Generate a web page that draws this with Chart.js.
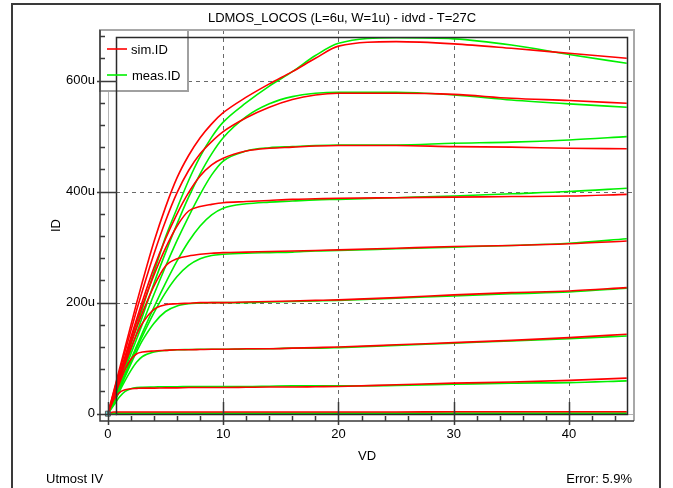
<!DOCTYPE html>
<html><head><meta charset="utf-8">
<script src="https://cdn.jsdelivr.net/npm/chart.js@4/dist/chart.umd.min.js"></script>
<style>
html,body{margin:0;padding:0;background:#fff;width:673px;height:488px;overflow:hidden;font-family:"Liberation Sans",Arial,sans-serif;}
#frame{position:absolute;left:11px;top:3px;width:646px;height:600px;border:2px solid #3a3a3a;}
#wrap{position:absolute;left:0;top:0;width:673px;height:488px;}
.txt{position:absolute;font-size:13px;color:#000;white-space:nowrap;line-height:1;}
#title{left:342px;top:11px;transform:translateX(-50%);}
#foot1{left:46px;top:472px;}
#foot2{right:41px;top:472px;}
</style></head><body>
<div id="frame"></div>
<div id="wrap"><canvas id="c" width="673" height="488"></canvas></div>
<div class="txt" id="title">LDMOS_LOCOS (L=6u, W=1u) - idvd - T=27C</div>
<div class="txt" id="foot1">Utmost IV</div>
<div class="txt" id="foot2">Error: 5.9%</div>
<script>
// Drain voltage (V)
const VD = [0,0.5,1,1.5,2,2.5,3,4,5,6,7,8,9,10,12,14,16,18,20,25,30,35,40,45];
// Drain current (uA), simulated and measured, one array per gate bias
const sim_0  = [0,3,3,3,3,3,3,3,3,3,3,3,3,3,3,3,3,3,3,3,3.5,3.5,3.5,3.5];
const meas_0 = [0,1,1,1,1,1,1,1,1,1,1,1,1,1,1,1,1,1,1,1,1,1,1,1];
const sim_1  = [0,25,38,43,45,45.5,46,46,46.5,46.5,47,47,47,47,47.5,48,48,48.5,49,52,55,57,60,64];
const meas_1 = [0,15,30,40,45,47,47.5,48,48.5,48.5,49,49,49,49,49,49.5,50,50,50,51,53,55,56,59];
const sim_2  = [0,28,55,80,98,108,111,113,114,115,115,115.5,116,116,117,117,118,119,120,124,128,132,137,143];
const meas_2 = [0,18,40,60,78,93,103,111,114,115,115.5,116,116,116,116.5,117,118,118,119,123,127,131,135,140];
const sim_3  = [0,30,60,90,118,143,163,188,196,198,199,200,200,200,201,202,203,204,205,209,214,218,221,227];
const meas_3 = [0,20,43,67,90,112,132,163,184,194,198,199,200,200,200,201,202,203,204,208,212,216,219,226];
const sim_4  = [0,32,64,96,127,155,182,230,266,279,284,287,289,290,291,292,293,294,295,298,301,303,306,311];
const meas_4 = [0,22,46,70,95,118,140,182,218,247,267,279,285,287,289,290,291,293,294,297,300,303,307,315];
const sim_5  = [0,33,67,100,133,165,195,250,298,338,365,373,377,380,382,384,386,387,388,389,390,391,392,395];
const meas_5 = [0,23,48,73,98,122,146,192,235,275,310,338,358,370,378,381,383,385,386,389,392,396,400,406];
const sim_6  = [0,35,70,104,138,171,203,263,315,360,398,428,448,460,473,478,480,482,483,483,481,480,478,477];
const meas_6 = [0,25,52,80,108,135,162,215,265,312,355,395,430,455,473,479,481,483,484,484,487,489,493,499];
const sim_7  = [0,38,76,113,150,187,222,288,347,398,438,468,490,508,533,552,566,574,577,577,575,568,564,559];
const meas_7 = [0,26,55,85,115,145,175,235,290,342,390,432,468,497,535,558,571,577,579,579,574,565,558,552];
const sim_8  = [0,40,80,120,160,200,238,310,372,425,465,497,522,542,570,594,616,640,662,670,666,658,649,640];
const meas_8 = [0,28,60,92,125,158,190,255,318,370,420,463,498,525,560,590,616,645,667,677,675,664,647,631];

const simSeries  = [sim_0,sim_1,sim_2,sim_3,sim_4,sim_5,sim_6,sim_7,sim_8];
const measSeries = [meas_0,meas_1,meas_2,meas_3,meas_4,meas_5,meas_6,meas_7,meas_8];

// axis ticks
const xMajorTicks = [0,10,20,30,40];
const xMinorTicks = [2,4,6,8,12,14,16,18,22,24,26,28,32,34,36,38,42,44];
const yMajorTicks = [0,200,400,600];
const yMinorTicks = [40,80,120,160,240,280,320,360,440,480,520,560,640,680];
const xGridLines = [10,20,30,40];
const yGridLines = [200,400,600];
const legendLabels = ['sim.ID','meas.ID'];
const originMarker = [{x:0,y:0}];

const SIM_COLOR = '#ff0000', MEAS_COLOR = '#00f000';

function toPts(vals){ return VD.map((v,i)=>({x:v,y:vals[i]})); }

const datasets = [];
datasets.push({label:'origin', data:originMarker, showLine:false, pointStyle:'rect', pointRadius:3.5,
  pointBorderColor:'#555', pointBackgroundColor:'rgba(0,190,190,0.6)', pointBorderWidth:1});
simSeries.forEach(s=>datasets.push({label:legendLabels[0], data:toPts(s), borderColor:SIM_COLOR,
  borderWidth:1.6, pointRadius:0, fill:false, cubicInterpolationMode:'monotone'}));
measSeries.forEach(s=>datasets.push({label:legendLabels[1], data:toPts(s), borderColor:MEAS_COLOR,
  borderWidth:1.6, pointRadius:0, fill:false, cubicInterpolationMode:'monotone'}));

const decor = {
  id:'decor',
  beforeDatasetsDraw(chart){
    const {ctx, chartArea:a, scales:{x,y}} = chart;
    ctx.save();
    ctx.lineWidth = 1;
    ctx.strokeStyle = '#b4b4b4';
    ctx.beginPath();
    const x0 = Math.round(x.getPixelForValue(0))+0.5, y0 = Math.round(y.getPixelForValue(0))+0.5;
    ctx.moveTo(x0,a.top); ctx.lineTo(x0,a.bottom);
    ctx.moveTo(a.left,y0); ctx.lineTo(a.right,y0);
    ctx.stroke();
    ctx.strokeStyle = '#6a6a6a'; ctx.setLineDash([4,4]);
    ctx.beginPath();
    xGridLines.forEach(v=>{const p=Math.round(x.getPixelForValue(v))+0.5; ctx.moveTo(p,a.top); ctx.lineTo(p,a.bottom);});
    yGridLines.forEach(v=>{const p=Math.round(y.getPixelForValue(v))+0.5; ctx.moveTo(a.left,p); ctx.lineTo(a.right,p);});
    ctx.stroke();
    ctx.restore();
  },
  afterDatasetsDraw(chart){
    const {ctx, chartArea:a, scales:{x,y}} = chart;
    ctx.save();
    // legend box
    const lw = 88, lh = 61;
    ctx.fillStyle = '#fff';
    ctx.fillRect(a.left, a.top, lw, lh);
    ctx.strokeStyle = '#a0a0a0'; ctx.lineWidth = 2;
    ctx.strokeRect(a.left, a.top, lw, lh);
    // inner data frame (data extents)
    const fx0 = x.getPixelForValue(0.7), fx1 = x.getPixelForValue(VD[VD.length-1]);
    const fy0 = y.getPixelForValue(0), fy1 = y.getPixelForValue(679);
    ctx.strokeStyle = '#2a2a2a'; ctx.lineWidth = 1.5;
    ctx.strokeRect(Math.round(fx0)+0.5, Math.round(fy1)+0.5, Math.round(fx1-fx0), Math.round(fy0-fy1));
    // outer plot border: top/right grey, left/bottom dark
    ctx.strokeStyle = '#a8a8a8'; ctx.lineWidth = 2;
    ctx.beginPath();
    ctx.moveTo(a.left, a.top); ctx.lineTo(a.right, a.top); ctx.lineTo(a.right, a.bottom);
    ctx.stroke();
    ctx.strokeStyle = '#3a3a3a'; ctx.lineWidth = 1.5;
    ctx.beginPath();
    ctx.moveTo(a.left, a.top); ctx.lineTo(a.left, a.bottom); ctx.lineTo(a.right, a.bottom);
    // ticks
    xMinorTicks.forEach(v=>{const p=Math.round(x.getPixelForValue(v))+0.5; ctx.moveTo(p,a.bottom); ctx.lineTo(p,a.bottom-5);});
    xMajorTicks.forEach(v=>{const p=Math.round(x.getPixelForValue(v))+0.5; ctx.moveTo(p,a.bottom+4); ctx.lineTo(p,a.bottom-19);});
    yMinorTicks.forEach(v=>{const p=Math.round(y.getPixelForValue(v))+0.5; ctx.moveTo(a.left,p); ctx.lineTo(a.left+5,p);});
    yMajorTicks.forEach(v=>{const p=Math.round(y.getPixelForValue(v))+0.5; ctx.moveTo(a.left-3,p); ctx.lineTo(a.left+17,p);});
    ctx.stroke();
    // legend entries
    const colors = [SIM_COLOR, MEAS_COLOR];
    ctx.font = '13px "Liberation Sans", Arial, sans-serif';
    ctx.textBaseline = 'middle'; ctx.textAlign = 'left';
    legendLabels.forEach((t,i)=>{
      const ly = a.top + 19 + i*26;
      ctx.strokeStyle = colors[i]; ctx.lineWidth = 1.6;
      ctx.beginPath(); ctx.moveTo(a.left+7, ly); ctx.lineTo(a.left+27, ly); ctx.stroke();
      ctx.fillStyle = '#000';
      ctx.fillText(t, a.left+31+i, ly+1);
    });
    ctx.restore();
  }
};

Chart.defaults.font.family = '"Liberation Sans", Arial, sans-serif';
Chart.defaults.font.size = 13;
Chart.defaults.color = '#000';

new Chart(document.getElementById('c'), {
  type:'line',
  data:{datasets},
  options:{
    responsive:false, animation:false, devicePixelRatio:1,
    layout:{padding:{top:30,right:39,bottom:0,left:0}},
    plugins:{legend:{display:false}, tooltip:{enabled:false}, title:{display:false}},
    scales:{
      x:{type:'linear', min:-0.685, max:45.63,
        grid:{display:false, drawTicks:false}, border:{display:false},
        afterBuildTicks:s=>{s.ticks = xMajorTicks.map(v=>({value:v}));},
        afterFit:s=>{s.height = 67;},
        ticks:{autoSkip:false, maxRotation:0, padding:6, callback:v=>String(v)},
        title:{display:true, text:'VD', padding:{top:0,bottom:24}}
      },
      y:{type:'linear', min:-13.2, max:691,
        grid:{display:false, drawTicks:false}, border:{display:false},
        afterBuildTicks:s=>{s.ticks = yMajorTicks.map(v=>({value:v}));},
        afterFit:s=>{s.width = 100;},
        ticks:{autoSkip:false, padding:5, callback:v=> v===0 ? '0' : v+'u'},
        title:{display:true, text:'ID', padding:{top:49,bottom:0}}
      }
    }
  },
  plugins:[decor]
});
</script>
</body></html>
